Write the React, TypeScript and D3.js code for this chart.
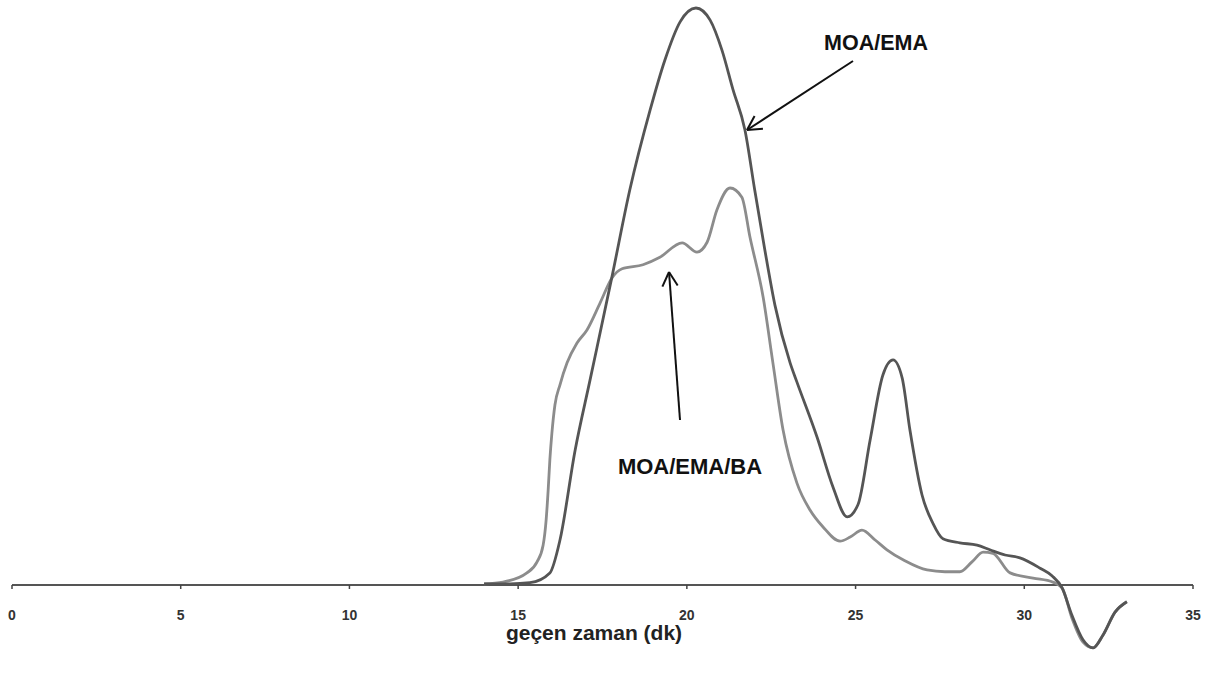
import React, { useEffect, useRef } from "react";
import * as d3 from "d3";

// time (dk) values, detector response (relative units)
const moaEmaTime = [13.99, 14.76, 15.35, 15.94, 16.24, 16.69, 17.13, 17.78, 18.31, 18.91, 19.35, 19.8, 20.27, 20.69, 21.04, 21.37, 21.72, 22.01, 22.31, 22.61, 23.06, 23.26, 23.86, 24.33, 24.75, 25.07, 25.43, 25.81, 26.11, 26.38, 26.61, 26.97, 27.29, 27.59, 28.09, 28.6, 28.98, 29.43, 29.87, 30.47, 30.82, 31.12, 31.41, 31.74, 32.04, 32.33, 32.69, 33.04];
const moaEmaValue = [0.2, 0.2, 0.4, 2.1, 7.8, 23.4, 35.5, 53.4, 68.5, 82.3, 91.0, 97.6, 100, 97.9, 92.7, 85.8, 78.9, 68.5, 58.1, 48.5, 38.5, 35.2, 25.6, 17.0, 11.8, 13.9, 25.1, 36.4, 39.0, 35.9, 26.9, 15.6, 10.7, 8.0, 7.3, 6.9, 6.1, 5.2, 4.7, 2.9, 1.6, -0.5, -5.2, -9.5, -10.9, -8.7, -4.7, -2.9];

const moaEmaBaTime = [13.99, 14.55, 15.26, 15.56, 15.74, 15.83, 15.89, 15.94, 16.0, 16.09, 16.24, 16.45, 16.74, 17.04, 17.43, 17.78, 18.08, 18.7, 19.2, 19.86, 20.3, 20.6, 20.89, 21.28, 21.63, 21.87, 22.26, 22.55, 22.85, 23.26, 23.65, 24.03, 24.54, 24.84, 25.19, 25.58, 25.93, 26.46, 27.12, 27.65, 28.09, 28.45, 28.78, 29.07, 29.58, 30.26, 30.85, 31.12, 31.41, 31.74, 32.04, 32.33, 32.69, 33.04];
const moaEmaBaValue = [0.2, 0.5, 2.1, 4.0, 6.9, 11.3, 16.5, 21.7, 26.3, 31.2, 34.7, 38.5, 41.9, 44.2, 48.9, 53.2, 54.8, 55.5, 56.8, 59.3, 57.7, 59.4, 65.0, 68.8, 67.2, 60.3, 49.9, 38.5, 26.9, 17.7, 13.0, 10.1, 7.6, 8.3, 9.5, 7.8, 6.1, 4.2, 2.6, 2.3, 2.3, 4.0, 5.7, 5.5, 2.1, 1.2, 0.5, -0.5, -5.7, -9.9, -10.9, -8.7, -4.7, -2.9];

const xTicks = [0, 5, 10, 15, 20, 25, 30, 35];
const xLabel = "geçen zaman (dk)";
const seriesLabels = ["MOA/EMA", "MOA/EMA/BA"];

const W = 1212;
const H = 673;

export default function App() {
  const ref = useRef<SVGSVGElement>(null);

  useEffect(() => {
    const svg = d3.select(ref.current);
    svg.selectAll("*").remove();

    const x = d3.scaleLinear().domain([0, 35]).range([12, 1193]);
    const y = d3.scaleLinear().domain([0, 100]).range([585, 8]);

    const line = d3
      .line<[number, number]>()
      .x((d) => x(d[0]))
      .y((d) => y(d[1]))
      .curve(d3.curveMonotoneX);

    const font = "Liberation Sans, Arial, sans-serif";

    // axis
    const g = svg.append("g");
    g.append("line")
      .attr("x1", x(0))
      .attr("x2", x(35))
      .attr("y1", y(0))
      .attr("y2", y(0))
      .attr("stroke", "#555")
      .attr("stroke-width", 2.2);
    g.selectAll(".tick")
      .data(xTicks)
      .enter()
      .append("line")
      .attr("x1", (d) => x(d))
      .attr("x2", (d) => x(d))
      .attr("y1", y(0))
      .attr("y2", y(0) + 4)
      .attr("stroke", "#444")
      .attr("stroke-width", 1.5);
    g.selectAll(".tl")
      .data(xTicks)
      .enter()
      .append("text")
      .attr("x", (d) => x(d))
      .attr("y", 620)
      .attr("text-anchor", "middle")
      .attr("font-family", font)
      .attr("font-weight", "bold")
      .attr("font-size", 14)
      .attr("fill", "#333")
      .text((d) => String(d));

    svg.append("text")
      .attr("x", 594)
      .attr("y", 640)
      .attr("text-anchor", "middle")
      .attr("font-family", font)
      .attr("font-weight", "bold")
      .attr("font-size", 21)
      .attr("fill", "#222")
      .text(xLabel);

    const grayData = moaEmaBaTime.map((t, i) => [t, moaEmaBaValue[i]] as [number, number]);
    const darkData = moaEmaTime.map((t, i) => [t, moaEmaValue[i]] as [number, number]);

    svg.append("path")
      .attr("d", line(grayData) || "")
      .attr("fill", "none")
      .attr("stroke", "#8c8c8c")
      .attr("stroke-width", 2.8);
    svg.append("path")
      .attr("d", line(darkData) || "")
      .attr("fill", "none")
      .attr("stroke", "#555")
      .attr("stroke-width", 2.8);

    // annotations
    svg.append("text")
      .attr("x", 876)
      .attr("y", 50)
      .attr("text-anchor", "middle")
      .attr("font-family", font)
      .attr("font-weight", "bold")
      .attr("font-size", 21.5)
      .attr("fill", "#111")
      .text(seriesLabels[0]);
    svg.append("text")
      .attr("x", 690)
      .attr("y", 474)
      .attr("text-anchor", "middle")
      .attr("font-family", font)
      .attr("font-weight", "bold")
      .attr("font-size", 22)
      .attr("fill", "#111")
      .text(seriesLabels[1]);

    const arrow = (x1: number, y1: number, x2: number, y2: number) => {
      const ang = Math.atan2(y2 - y1, x2 - x1);
      const len = 16;
      const spread = 0.5;
      svg.append("line")
        .attr("x1", x1).attr("y1", y1).attr("x2", x2).attr("y2", y2)
        .attr("stroke", "#111").attr("stroke-width", 2);
      [ang + Math.PI - spread, ang + Math.PI + spread].forEach((a) => {
        svg.append("line")
          .attr("x1", x2).attr("y1", y2)
          .attr("x2", x2 + len * Math.cos(a))
          .attr("y2", y2 + len * Math.sin(a))
          .attr("stroke", "#111").attr("stroke-width", 2);
      });
    };
    arrow(853, 61, 747, 130);
    arrow(680, 420, 669, 272);
  }, []);

  return (
    <svg
      ref={ref}
      width={W}
      height={H}
      style={{ position: "absolute", left: 0, top: 0, background: "#fff" }}
    />
  );
}
